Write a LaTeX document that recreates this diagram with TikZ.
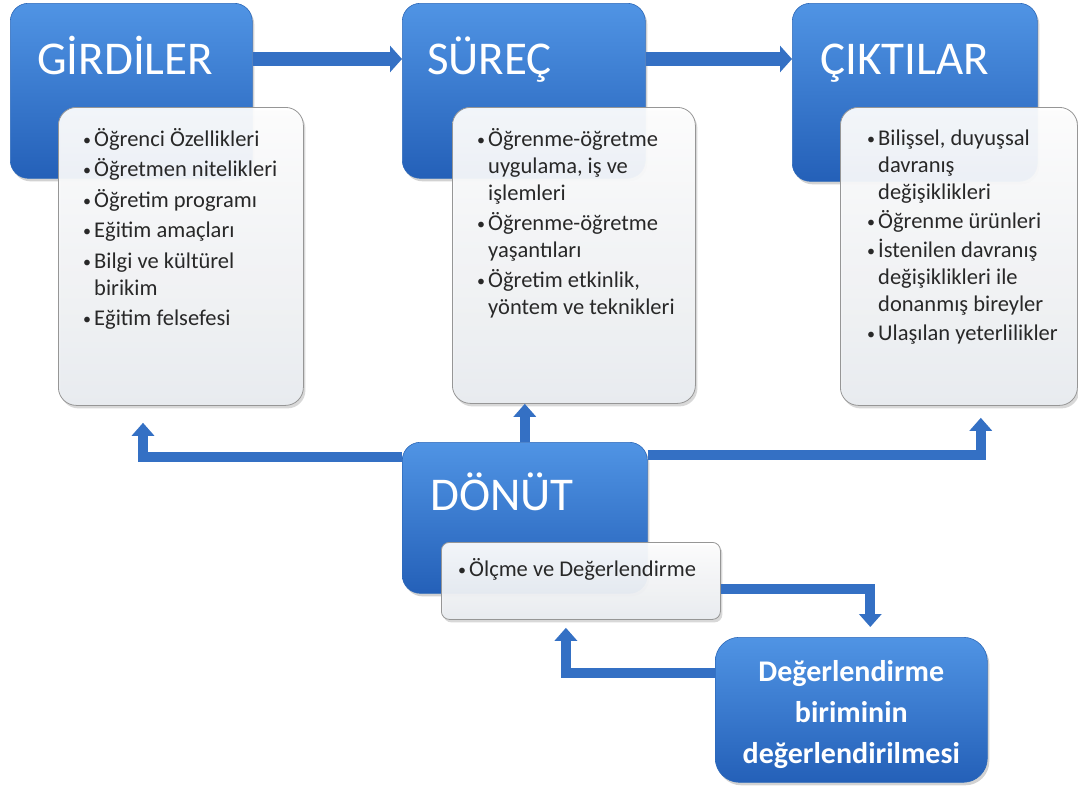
\documentclass[tikz,border=0pt]{standalone}
\usepackage{fontspec}
\setmainfont{Carlito}
\usetikzlibrary{positioning,shadows,arrows.meta}

\definecolor{bluetop}{RGB}{80,148,228}
\definecolor{bluebot}{RGB}{36,96,184}
\definecolor{blueedge}{RGB}{45,105,185}
\definecolor{arrowblue}{RGB}{52,112,196}
\definecolor{listedge}{RGB}{150,150,150}
\definecolor{listbot}{RGB}{234,237,241}
\definecolor{listtext}{RGB}{40,40,40}

\newcommand{\bul}{\makebox[11pt][l]{\raisebox{1pt}{\fontsize{16}{16}\selectfont\textbullet}}}
\newcommand{\ind}{\hspace*{11pt}}

\tikzset{
  bluebox/.style={rectangle, rounded corners=18pt, anchor=north west, top color=bluetop, bottom color=bluebot, draw=blueedge, line width=0.6pt, drop shadow={opacity=0.35,shadow xshift=2pt,shadow yshift=-3pt}},
  listbox/.style={rectangle, rounded corners=18pt, anchor=north west, top color=white, bottom color=listbot, draw=listedge, line width=0.8pt, fill opacity=0.93, drop shadow={opacity=0.3,shadow xshift=2pt,shadow yshift=-3pt}},
  boxtitle/.style={anchor=base west, inner sep=0pt, text=white, font=\fontsize{47}{47}\selectfont},
  itemlist/.style={anchor=north west, inner sep=0pt, align=left, text=listtext, font=\fontsize{22.5}{27}\selectfont},
  flow/.style={draw=arrowblue, line width=10pt, -{Triangle[length=13pt,width=22pt]}},
  bigflow/.style={draw=arrowblue, line width=14pt, -{Triangle[length=12pt,width=26pt]}},
}

\begin{document}
\begin{tikzpicture}[x=1pt,y=-1pt]
  \useasboundingbox[fill=white] (0,0) rectangle (1078,785);
  %\draw[help lines] (0,0) grid[step=50] (1078,785);

  % upper row
  \node[bluebox, minimum width=242pt, minimum height=175pt] (girdi) at (10,3) {};
  \node[bluebox, minimum width=243pt, minimum height=175pt] (surec) at (402,3) {};
  \node[bluebox, minimum width=245pt, minimum height=178pt] (cikti) at (792,3) {};
  \node[boxtitle] (girdiT) at ([shift={(27,71)}]girdi.north west) {GİRDİLER};
  \node[boxtitle] (surecT) at ([shift={(25,71)}]surec.north west) {SÜREÇ};
  \node[boxtitle] (ciktiT) at ([shift={(28,71)}]cikti.north west) {ÇIKTILAR};
  \draw[bigflow] ([yshift=-56pt]girdi.north east) -- ([yshift=-56pt]surec.north west);
  \draw[bigflow] ([yshift=-56pt]surec.north east) -- ([yshift=-56pt]cikti.north west);

  \node[listbox, minimum width=245pt, minimum height=298pt] (girdiL) at (58,107) {};
  \node[listbox, minimum width=243pt, minimum height=296pt] (surecL) at (452,107) {};
  \node[listbox, minimum width=237pt, minimum height=298pt] (ciktiL) at (840,107) {};
  \node[itemlist] (girdiX) at ([shift={(25,20)}]girdiL.north west)
    {\strut\bul Öğrenci Özellikleri\\[3.5pt]
     \bul Öğretmen nitelikleri\\[3.5pt]
     \bul Öğretim programı\\[3.5pt]
     \bul Eğitim amaçları\\[3.5pt]
     \bul Bilgi ve kültürel\\
     \ind birikim\\[3.5pt]
     \bul Eğitim felsefesi};
  \node[itemlist] (surecX) at ([shift={(25,20)}]surecL.north west)
    {\strut\bul Öğrenme-öğretme\\
     \ind uygulama, iş ve\\
     \ind işlemleri\\[3pt]
     \bul Öğrenme-öğretme\\
     \ind yaşantıları\\[3pt]
     \bul Öğretim etkinlik,\\
     \ind yöntem ve teknikleri};
  \node[itemlist] (ciktiX) at ([shift={(27,19)}]ciktiL.north west)
    {\strut\bul Bilişsel, duyuşsal\\
     \ind davranış\\
     \ind değişiklikleri\\[2pt]
     \bul Öğrenme ürünleri\\[2pt]
     \bul İstenilen davranış\\
     \ind değişiklikleri ile\\
     \ind donanmış bireyler\\[2pt]
     \bul Ulaşılan yeterlilikler};

  % feedback
  \node[bluebox, minimum width=245pt, minimum height=151pt] (donut) at (402,442) {};
  \node[boxtitle] (donutT) at ([shift={(28,68)}]donut.north west) {DÖNÜT};
  \draw[flow] ([shift={(0,15)}]donut.north west) -| ([shift={(85,17)}]girdiL.south west);
  \draw[flow] (donut.north) -- (donut.north |- surecL.south);
  \draw[flow] ([shift={(0,13)}]donut.north east) -| ([shift={(-97,12)}]ciktiL.south east);

  \node[listbox, rounded corners=8pt, minimum width=279pt, minimum height=77pt] (olcme) at (441,542) {};
  \node[itemlist] (olcmeX) at ([shift={(17,15)}]olcme.north west) {\strut\bul Ölçme ve Değerlendirme};

  \node[bluebox, rounded corners=24pt, minimum width=272pt, minimum height=145pt, align=center,
        text=white, font=\bfseries\fontsize{30}{41}\selectfont] (deger) at (715,637)
    {\rule{0pt}{30pt}Değerlendirme\\ biriminin\\ değerlendirilmesi};
  \draw[flow] ([shift={(0,8)}]olcme.east) -| ([shift={(19,-10)}]deger.north);
  \draw[flow] ([shift={(0,-37)}]deger.west) -| ([shift={(-15,8)}]olcme.south);
\end{tikzpicture}
\end{document}
